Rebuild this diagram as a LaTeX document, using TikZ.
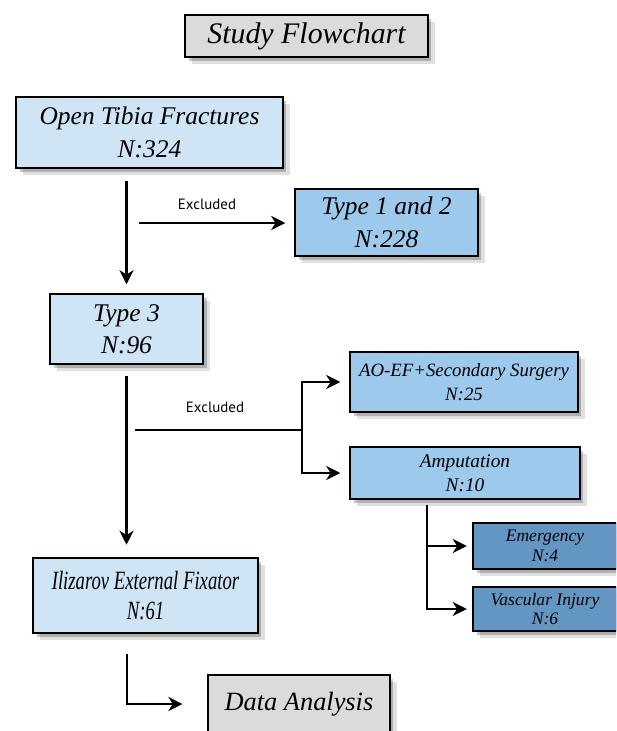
\documentclass[tikz,border=0pt]{standalone}
\usepackage{fontspec}
\setmainfont{Liberation Serif}
\newfontfamily\exfont{PT Sans}
\newfontfamily\condfont[FakeStretch=0.71]{Liberation Serif}
\usepackage{tikz}
\usepackage{xcolor}
\usetikzlibrary{arrows.meta, shadows, calc, positioning}
\definecolor{boxlight}{HTML}{CFE4F5}
\definecolor{boxmid}{HTML}{9CC9EC}
\definecolor{boxdark}{HTML}{6496C3}
\definecolor{boxgray}{HTML}{D9DBDD}

\begin{document}
\begin{tikzpicture}[x=0.02cm, y=-0.02cm, line width=1.4pt,
    box/.style={draw, line width=1.1pt, align=center, inner sep=2pt, font=\itshape,
        drop shadow={shadow xshift=4pt, shadow yshift=-4pt, opacity=0.12, fill=black},
        drop shadow={shadow xshift=2pt, shadow yshift=-2pt, opacity=0.22, fill=black}},
    lightbox/.style={box, fill=boxlight},
    midbox/.style={box, fill=boxmid},
    darkbox/.style={box, fill=boxdark},
    graybox/.style={box, fill=boxgray},
    arr/.style={-{Stealth[length=8pt, width=8pt, inset=2.5pt]}},
    exlabel/.style={font=\exfont\fontsize{8.5}{10}\selectfont}]
        \useasboundingbox (0,0) rectangle (616,731);
        \clip (0,0) rectangle (616,731);
        \node[graybox, minimum width=4.86cm, minimum height=0.84cm, font=\itshape\fontsize{17}{20}\selectfont] (title) at (306.5,36) {Study Flowchart};
        \node[lightbox, minimum width=5.34cm, minimum height=1.42cm, font=\itshape\fontsize{14.5}{19}\selectfont] (open) at (149.5,132.5) {Open Tibia Fractures\\N:324};
        \node[midbox, minimum width=3.66cm, minimum height=1.34cm, font=\itshape\fontsize{14.5}{19}\selectfont] (t12) at (386.5,222.5) {Type 1 and 2\\N:228};
        \node[lightbox, minimum width=3.06cm, minimum height=1.40cm, font=\itshape\fontsize{14.5}{18}\selectfont] (t3) at (126.5,329) {Type 3\\N:96};
        \node[midbox, minimum width=4.56cm, minimum height=1.20cm, font=\itshape\fontsize{10.7}{14}\selectfont] (aoef) at (464,382) {AO-EF+Secondary Surgery\\N:25};
        \node[midbox, minimum width=4.60cm, minimum height=1.04cm, font=\itshape\fontsize{11}{13.5}\selectfont] (amp) at (465,473) {Amputation\\N:10};
        \node[darkbox, minimum width=2.88cm, minimum height=0.92cm, font=\itshape\fontsize{10}{11}\selectfont] (emer) at (545,546) {Emergency\\N:4};
        \node[darkbox, minimum width=2.88cm, minimum height=0.88cm, font=\itshape\fontsize{10}{11}\selectfont] (vasc) at (545,609) {Vascular Injury\\N:6};
        \node[lightbox, minimum width=4.50cm, minimum height=1.50cm, font=\condfont\itshape\fontsize{15}{17.5}\selectfont] (iliz) at (145.5,595.5) {Ilizarov External Fixator\\N:61};
        \node[graybox, minimum width=3.64cm, minimum height=1.16cm, font=\itshape\fontsize{15}{18}\selectfont] (data) at (299,704) {Data Analysis};
        \coordinate (ex1) at (139,223);
        \coordinate (ex2) at (135,430);
        \coordinate (br) at (302,430);
        \coordinate (ab) at (427,505);
        \coordinate (ib) at (127,654);
        \draw[arr, shorten <=6.8pt, shorten >=5pt] (open.south -| t3.north) -- (t3.north);
        \draw[arr, shorten >=5pt] (ex1) -- (ex1 -| t12.west);
        \node[exlabel] (lab1) at (207,204) {Excluded};
        \draw[arr, shorten <=6pt, shorten >=7pt] (t3.south) -- (t3.south |- iliz.north);
        \draw (ex2) -- (br);
        \draw[arr, shorten >=5pt] (br) |- (aoef.west);
        \draw[arr, shorten >=5pt] (br) |- (amp.west);
        \node[exlabel] (lab2) at (215,407) {Excluded};
        \draw[arr, shorten >=3pt] (ab) |- (emer.west);
        \draw[arr, shorten >=3pt] (ab) |- (vasc.west);
        \draw[arr, shorten >=14pt] (ib) |- (data.west);
    \end{tikzpicture}
\end{document}
